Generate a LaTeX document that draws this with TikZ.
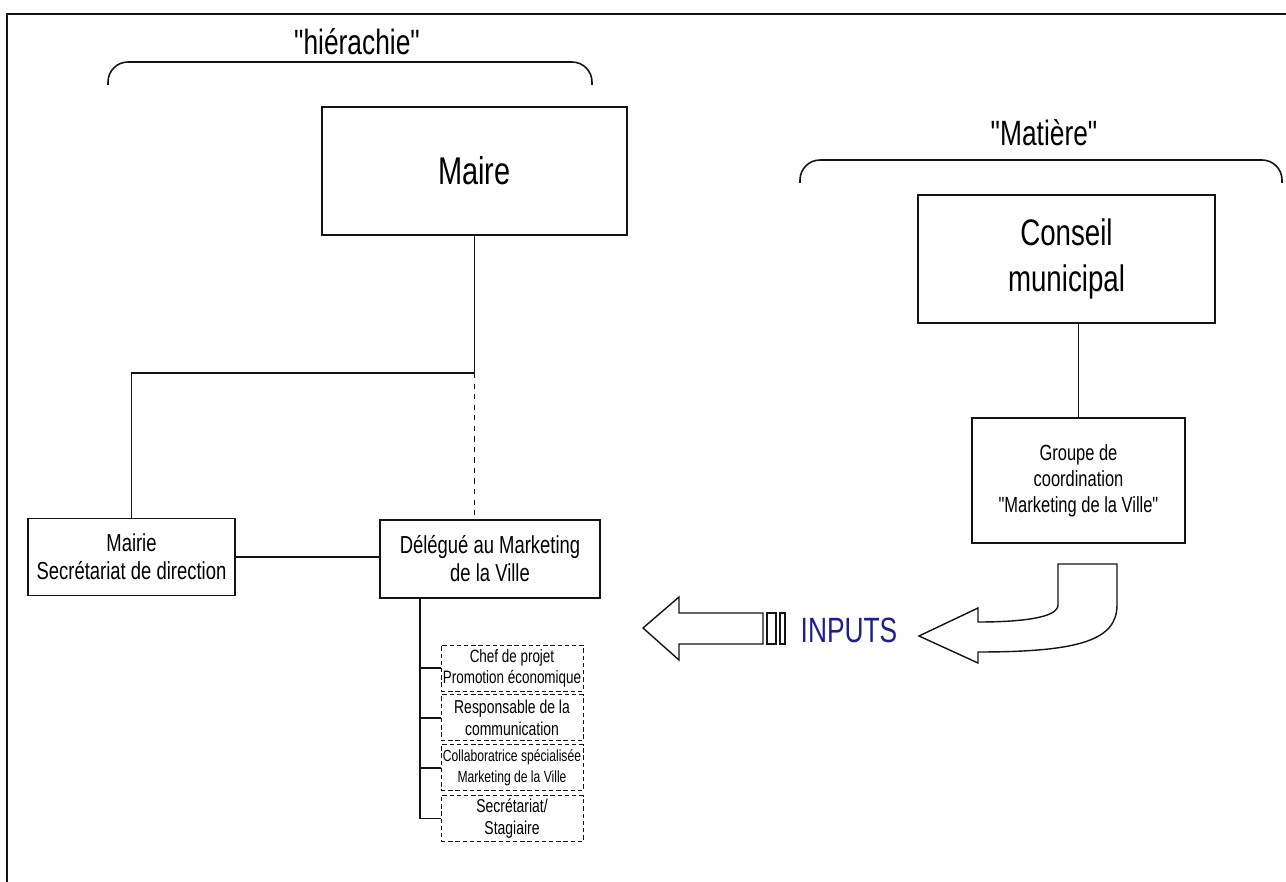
\documentclass[tikz,border=0pt]{standalone}
\usepackage{fontspec}
\setmainfont{Liberation Sans}[FakeStretch=0.75,Ligatures=TeXOff]
\usetikzlibrary{positioning}
\definecolor{ink}{RGB}{20,20,20}
\definecolor{navy}{RGB}{30,30,140}

\begin{document}
\begin{tikzpicture}[x=0.02cm,y=-0.02cm,
 b/.style={draw=ink,line width=1.1pt,align=center,inner sep=2pt},
 d/.style={draw=ink,line width=0.5pt,dash pattern=on 2.5pt off 1.6pt,align=center,inner sep=1pt,
   minimum width=2.84cm,minimum height=0.92cm,font=\fontsize{10.6}{12}\selectfont},
 hd/.style={font=\fontsize{20}{24}\selectfont,inner sep=0pt},
 br/.style={draw=ink,line width=0.9pt,rounded corners=0.4cm},
 ln/.style={draw=ink,line width=1pt},
 fl/.style={draw=ink,line width=0.8pt,fill=white,line join=miter}]
 \useasboundingbox (0,0) rectangle (1286,882);
 \draw[ink,line width=1.4pt] (7,882) -- (7,14) -- (1286,14);
 % en-tetes
 \node[hd](hier) at (357,42){"hiérachie"};
 \draw[br] (108,85) -- (108,62) -- (592,62) -- (592,85);
 \node[hd](mat) at (1044,133){"Matière"};
 \draw[br] (800,183) -- (800,160) -- (1282,160) -- (1282,183);
 % hierarchie
 \node[b,minimum width=6.1cm,minimum height=2.56cm,font=\fontsize{22}{26}\selectfont](maire) at (474.5,171){Maire};
 \node[b,minimum width=4.14cm,minimum height=1.54cm,font=\fontsize{14}{16}\selectfont](mairie) at (131.5,557){Mairie\\Secrétariat de direction};
 \node[b,minimum width=4.4cm,minimum height=1.56cm,font=\fontsize{14}{16}\selectfont](deleg) at (490,559){Délégué au Marketing\\de la Ville};
 \coordinate (jn) at (474.5,373);
 \coordinate (sp) at (420,0);
 \draw[ln] (maire) -- (jn) -| (mairie);
 \draw[ln,dashed] (jn) -- (jn |- deleg.north);
 \draw[ln] (mairie.east) -- (mairie.east -| deleg.west);
 \node[d,font=\fontsize{10.2}{12}\selectfont](p1) at (512,668){Chef de projet\\Promotion économique};
 \node[d,below=0.06cm of p1](p2){Responsable de la\\communication};
 \node[d,below=0.06cm of p2,font=\fontsize{9.2}{12}\selectfont](p3){Collaboratrice spécialisée\\Marketing de la Ville};
 \node[d,below=0.08cm of p3](p4){Secrétariat/\\Stagiaire};
 \draw[ln] (sp |- deleg.south) |- (p4.west);
 \foreach \p in {p1,p2,p3}
   \draw[ln] (sp |- \p.west) -- (\p.west);
 % matiere
 \node[b,minimum width=5.94cm,minimum height=2.56cm,font=\fontsize{21}{26}\selectfont](conseil) at (1066.5,259){Conseil\\municipal};
 \node[b,minimum width=4.26cm,minimum height=2.5cm,font=\fontsize{12.5}{14.8}\selectfont](groupe) at (1078.5,480.5){Groupe de\\coordination\\"Marketing de la Ville"};
 \draw[ln] (groupe.north |- conseil.south) -- (groupe.north);
 % fleches
 \draw[fl] (1058,564) -- (1058,605) .. controls (1058,618) and (1020,622) .. (978,622)
   -- (978,608) -- (919,636) -- (978,663) -- (978,652)
   .. controls (1080,652) and (1117,640) .. (1117,605) -- (1117,564) -- cycle;
 \node[font=\fontsize{20}{24}\selectfont,text=navy,inner sep=0pt](inp) at (849,630){INPUTS};
 \draw[fl] (643,628) -- (679,597) -- (679,613) -- (763,613) -- (763,644) -- (679,644) -- (679,660) -- cycle;
 \draw[fl] (767,613) rectangle (776,644);
 \draw[fl] (780,613) rectangle (785,644);
\end{tikzpicture}
\end{document}
